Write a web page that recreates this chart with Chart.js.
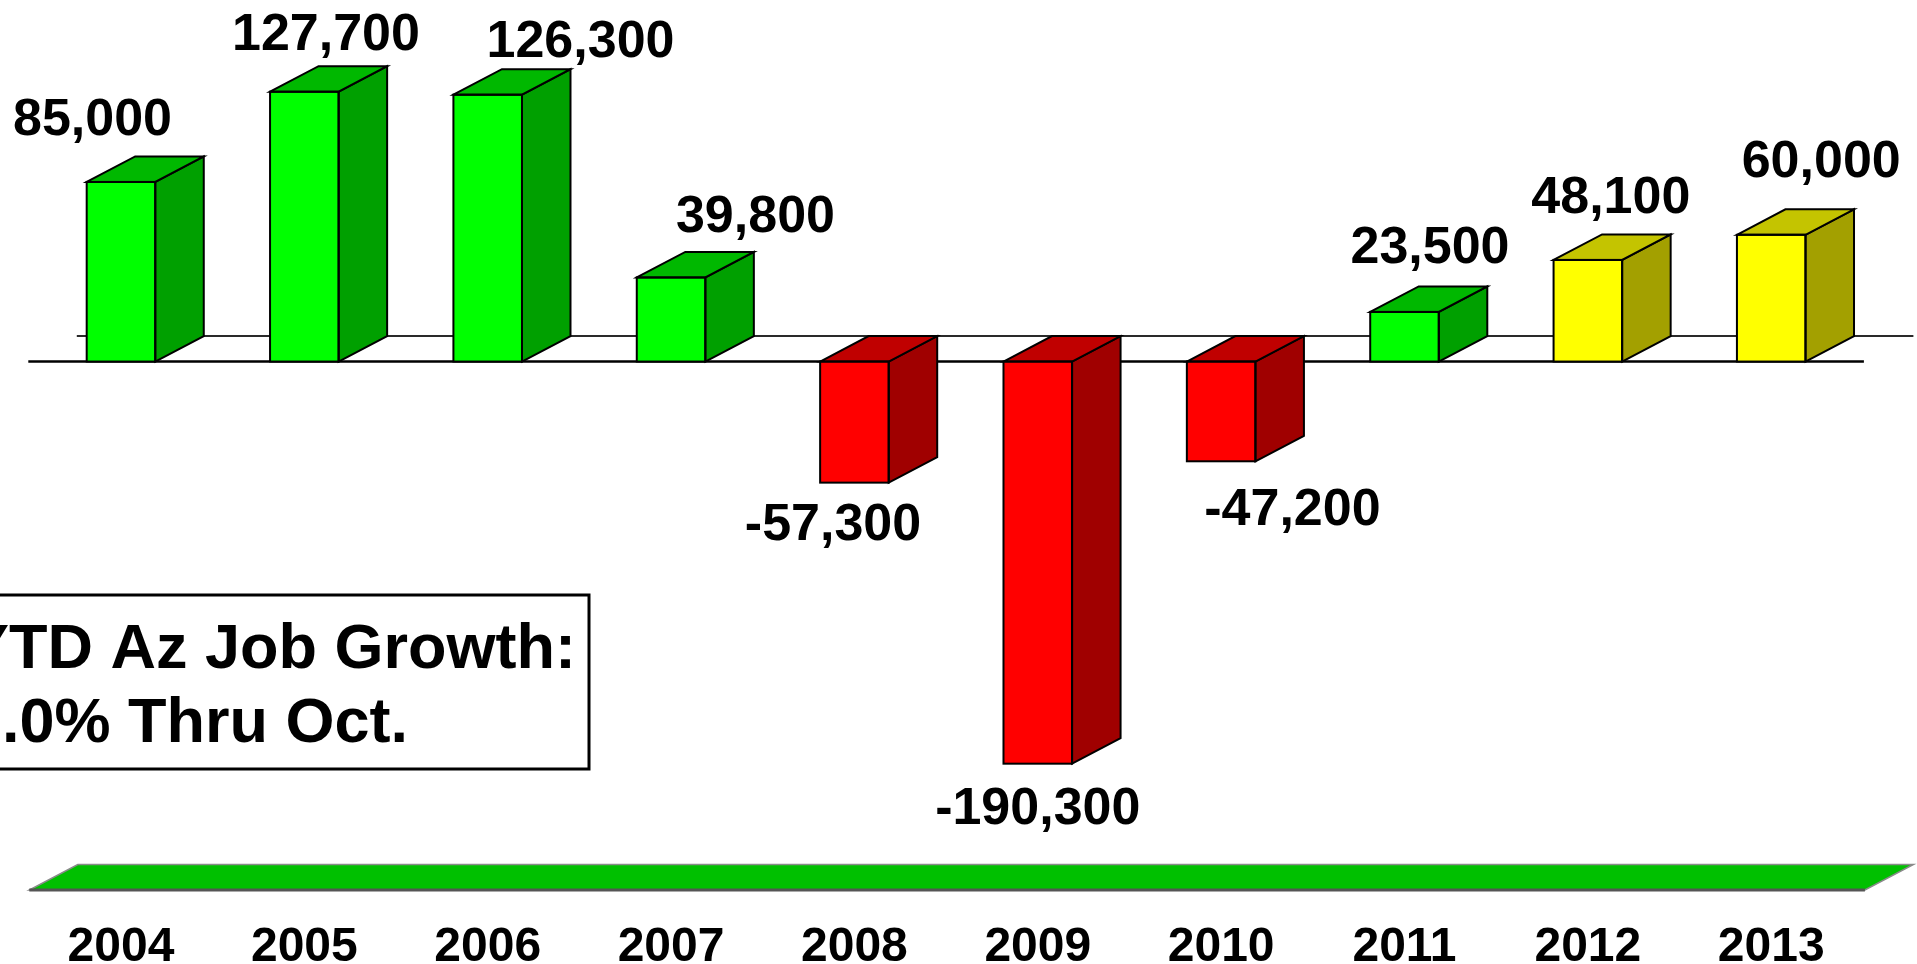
<!DOCTYPE html>
<html>
<head>
<meta charset="utf-8">
<script src="https://cdn.jsdelivr.net/npm/chart.js@4.4.1/dist/chart.umd.min.js"></script>
<style>
html,body{margin:0;padding:0;background:#ffffff;overflow:hidden}
canvas{display:block}
</style>
</head>
<body>
<canvas id="c" width="1917" height="964"></canvas>
<script>
// ---- data ----
const years = ['2004','2005','2006','2007','2008','2009','2010','2011','2012','2013'];
const jobGrowth = [85000, 127700, 126300, 39800, -57300, -190300, -47200, 23500, 48100, 60000];
const barKind = ['actual','actual','actual','actual','actual','actual','actual','actual','projected','projected'];
const boxLines = ['YTD Az Job Growth:', '.0% Thru Oct.'];

// ---- label placement (offsets from bar centre / bar end, px) ----
const labelDx = [-28.5, 21.6, 92.8, 84.4, -21.4, 0, 71.3, 25.5, 23, 50];
const labelDy = [-46.7, -41.7, -38, -45.7, 57.5, 60, 63.8, -48.5, -46.6, -58];

// ---- styles ----
const palette = {
  up:   {front:'#00FF00', top:'#00B800', side:'#00A000'},
  down: {front:'#FF0000', top:'#C00000', side:'#A00000'},
  proj: {front:'#FFFF00', top:'#C4C400', side:'#A3A000'}
};
function styleFor(i){
  if (barKind[i] === 'projected') return palette.proj;
  return jobGrowth[i] < 0 ? palette.down : palette.up;
}
const DX = 48.5, DY = -25.5;

function poly(ctx, pts, fill, stroke, lw){
  ctx.beginPath();
  ctx.moveTo(pts[0][0], pts[0][1]);
  for (let k = 1; k < pts.length; k++) ctx.lineTo(pts[k][0], pts[k][1]);
  ctx.closePath();
  if (fill){ ctx.fillStyle = fill; ctx.fill(); }
  if (stroke){ ctx.strokeStyle = stroke; ctx.lineWidth = lw; ctx.lineJoin = 'miter'; ctx.stroke(); }
}

const threeD = {
  id: 'threeD',
  beforeDatasetsDraw(chart){
    const ctx = chart.ctx, a = chart.chartArea, y = chart.scales.y;
    const y0 = y.getPixelForValue(0);
    ctx.save();
    // back edge of the zero plane
    ctx.strokeStyle = '#2a2a2a'; ctx.lineWidth = 2;
    ctx.beginPath(); ctx.moveTo(a.left + DX - 1, y0 + DY); ctx.lineTo(a.right + DX + 2, y0 + DY); ctx.stroke();
    // front edge of the zero plane
    ctx.strokeStyle = '#000'; ctx.lineWidth = 2.5;
    ctx.beginPath(); ctx.moveTo(a.left - 1, y0); ctx.lineTo(a.right + 1, y0); ctx.stroke();
    // green floor band under the chart
    const bL = a.left, bR = a.right + 2, bB = 890, bT = bB + DY;
    poly(ctx, [[bL, bB], [bR, bB], [bR + DX, bT], [bL + DX, bT]], '#00C000', '#8a8a8a', 1.5);
    ctx.strokeStyle = '#555'; ctx.lineWidth = 3;
    ctx.beginPath(); ctx.moveTo(bL, bB); ctx.lineTo(bR, bB); ctx.stroke();
    ctx.restore();
  },
  afterDatasetsDraw(chart){
    const ctx = chart.ctx, meta = chart.getDatasetMeta(0);
    ctx.save();
    meta.data.forEach((bar, i) => {
      const p = bar.getProps(['x','y','base','width'], true);
      const l = p.x - p.width/2, r = p.x + p.width/2;
      const t = Math.min(p.y, p.base), b = Math.max(p.y, p.base);
      const st = styleFor(i);
      // side face
      poly(ctx, [[r, t], [r + DX, t + DY], [r + DX, b + DY], [r, b]], st.side, '#000', 2);
      // top face
      poly(ctx, [[l, t], [l + DX, t + DY], [r + DX, t + DY], [r, t]], st.top, '#000', 2);
      // front outline
      ctx.strokeStyle = '#000'; ctx.lineWidth = 2;
      ctx.strokeRect(l, t, r - l, b - t);
    });
    // value labels
    ctx.fillStyle = '#000';
    ctx.font = 'bold 52px "Liberation Sans", Arial, sans-serif';
    ctx.textAlign = 'center'; ctx.textBaseline = 'alphabetic';
    meta.data.forEach((bar, i) => {
      const p = bar.getProps(['x','y','base'], true);
      const anchor = jobGrowth[i] >= 0 ? Math.min(p.y, p.base) : Math.max(p.y, p.base);
      ctx.fillText(jobGrowth[i].toLocaleString('en-US'), p.x + labelDx[i], anchor + labelDy[i]);
    });
    // category labels
    const xs = chart.scales.x;
    ctx.font = 'bold 48px "Liberation Sans", Arial, sans-serif';
    years.forEach((yr, i) => ctx.fillText(yr, xs.getPixelForValue(i), 961));
    // annotation box
    ctx.fillStyle = '#fff';
    ctx.fillRect(-10, 595, 599, 174);
    ctx.strokeStyle = '#000'; ctx.lineWidth = 3;
    ctx.strokeRect(-10, 595, 599, 174);
    ctx.fillStyle = '#000';
    ctx.font = 'bold 63px "Liberation Sans", Arial, sans-serif';
    ctx.textAlign = 'left';
    ctx.fillText(boxLines[0], -33, 668);
    ctx.fillText(boxLines[1], 2, 742);
    ctx.restore();
  }
};

new Chart(document.getElementById('c'), {
  type: 'bar',
  data: {
    labels: years,
    datasets: [{
      data: jobGrowth,
      backgroundColor: jobGrowth.map((v, i) => styleFor(i).front),
      borderWidth: 0,
      categoryPercentage: 1,
      barPercentage: 0.374
    }]
  },
  options: {
    responsive: false,
    devicePixelRatio: 1,
    animation: false,
    layout: { padding: { left: 29.3, right: 54.1, top: 0, bottom: 0 } },
    plugins: { legend: { display: false }, tooltip: { enabled: false }, title: { display: false } },
    scales: {
      x: { display: false, grid: { display: false } },
      y: { display: false, min: -285100, max: 171100, grid: { display: false } }
    }
  },
  plugins: [threeD]
});
</script>
</body>
</html>
